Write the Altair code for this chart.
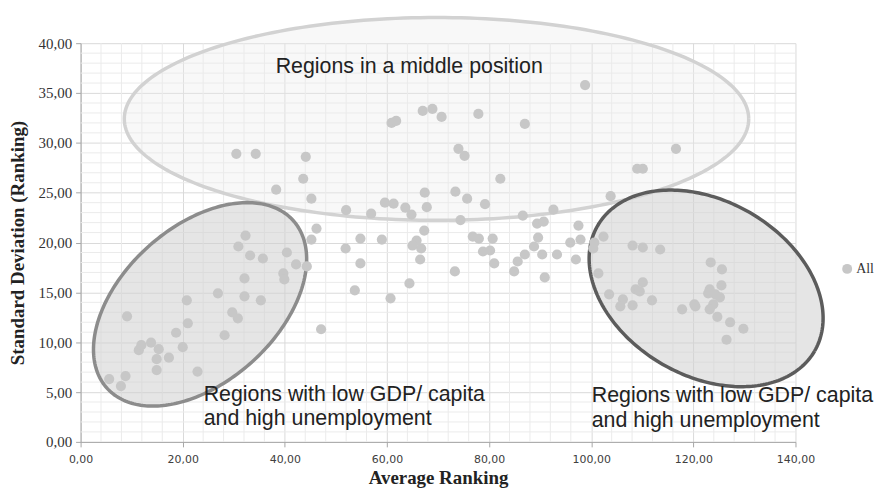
import altair as alt
import numpy as np
import pandas as pd

# ---------------- data ----------------
avg_ranking = [
    9.1, 5.6, 7.9, 8.8, 11.4, 11.9, 13.8, 15.3, 14.9, 14.9, 17.3, 18.7, 20.0, 20.8, 21.0, 22.9,
    26.9, 28.2, 29.7, 30.8, 32.1, 32.1, 35.3, 30.9, 33.2, 35.7, 40.4, 39.7, 39.9, 42.2, 44.3,
    45.2, 47.1, 32.3, 46.2,
    30.5, 34.3, 44.1, 43.6, 38.3, 45.2,
    52.0, 56.9, 59.6, 61.3, 60.9, 61.8, 67.0, 68.9, 70.7, 77.9, 87.0, 74.0, 75.2, 82.2, 67.4,
    73.4, 75.7, 79.2, 63.6, 64.8, 67.8, 74.4, 86.6, 89.4, 90.7, 92.6, 89.6, 88.8, 67.3, 65.8,
    65.0, 66.7, 54.8, 59.0, 51.9, 76.8, 78.0, 80.7,
    54.8, 53.7, 60.7, 64.4, 66.5, 73.3, 78.8, 80.2, 81.0, 84.9, 85.6, 87.0, 90.4, 90.9, 93.3,
    98.8, 116.6, 109.0, 110.1, 103.8, 97.5, 95.9, 97.9, 100.6, 100.4, 102.4, 108.1, 110.1,
    113.5, 97.0, 101.4, 103.5, 106.2, 105.7, 108.1, 110.1, 108.7, 109.5, 111.9, 117.8, 120.2,
    120.4, 123.4, 125.6, 125.5, 123.2, 122.9, 124.3, 125.2, 123.9, 123.2, 124.7, 127.2, 129.8,
    126.5,
]
std_dev = [
    12.6, 6.3, 5.6, 6.6, 9.2, 9.7, 9.95, 9.3, 8.3, 7.2, 8.45, 10.95, 9.5, 14.2, 11.9, 7.05,
    14.9, 10.7, 13.0, 12.4, 14.6, 16.4, 14.2, 19.6, 18.7, 18.4, 19.0, 16.9, 16.3, 17.8, 17.6,
    20.3, 11.3, 20.7, 21.4,
    28.9, 28.9, 28.6, 26.4, 25.3, 24.4,
    23.25, 22.9, 24.0, 23.9, 32.0, 32.2, 33.2, 33.4, 32.6, 32.9, 31.9, 29.4, 28.7, 26.4, 25.0,
    25.1, 24.4, 23.85, 23.5, 22.8, 23.55, 22.25, 22.7, 21.9, 22.1, 23.3, 20.5, 19.6, 21.2, 20.2,
    19.7, 19.4, 20.4, 20.3, 19.4, 20.6, 20.4, 20.4,
    17.9, 15.2, 14.4, 15.9, 18.3, 17.1, 19.1, 19.2, 17.9, 17.1, 18.1, 18.8, 18.8, 16.5, 18.8,
    35.8, 29.4, 27.4, 27.4, 24.65, 21.7, 20.0, 20.3, 20.0, 19.4, 20.6, 19.7, 19.5,
    19.3, 18.3, 16.9, 14.8, 14.3, 13.6, 13.7, 16.0, 15.3, 15.1, 14.2, 13.3, 13.8,
    13.6, 18.0, 17.3, 15.7, 15.3, 14.9, 14.8, 14.5, 13.8, 13.3, 12.55, 12.0, 11.35,
    10.25,
]
series_name = "All"

x_ticks = [0, 20, 40, 60, 80, 100, 120, 140]
y_ticks = [0, 5, 10, 15, 20, 25, 30, 35, 40]
x_minor = [v for v in range(0, 141, 4) if v % 20 != 0]
y_minor = [v for v in range(0, 41, 1) if v % 5 != 0]

annotations_text = [
    "Regions in a middle position",
    "Regions with low GDP/ capita",
    "and high unemployment",
    "Regions with low GDP/ capita",
    "and high unemployment",
]
annotations_x = [38.2, 24.1, 24.1, 100.1, 100.1]
annotations_y = [37.0, 4.1, 1.65, 4.0, 1.5]

# ellipse annotations: centre (data units), semi-axes (px), rotation (deg)
ell_cx = [69.7, 23.4, 122.5]
ell_cy = [32.4, 13.8, 15.4]
ell_a = [314, 126, 126]
ell_b = [102, 78, 88]
ell_ang = [0, 42, -30]

# ---------------- layout ----------------
W, H = 719, 401
XMAX, YMAX = 140, 40
SX, SY = W / XMAX, H / YMAX

fill_colors = ["#ececec", "#cfcfcf", "#cfcfcf"]
fill_opac = [0.35, 0.55, 0.55]
stroke_colors = ["#d2d2d2", "#8c8c8c", "#5c5c5c"]

label_expr = "replace(format(datum.value, '.2f'), '.', ',')"

x_axis = alt.Axis(values=x_ticks, labelExpr=label_expr, title="Average Ranking",
                  labelFont="DejaVu Sans", labelFontSize=11, labelColor="#404040",
                  labelPadding=7, labelFlush=False, tickSize=5, tickColor="#a6a6a6",
                  domainColor="#a6a6a6", gridColor="#dadada", titleFont="Liberation Serif",
                  titleFontSize=19, titleFontWeight="bold", titleColor="#222222",
                  titlePadding=4)
y_axis = alt.Axis(values=y_ticks, labelExpr=label_expr, title="Standard Deviation (Ranking)",
                  labelFont="Liberation Serif", labelFontSize=15, labelColor="#333333",
                  labelPadding=4, labelFlush=False, tickSize=5, tickColor="#a6a6a6",
                  domainColor="#a6a6a6", gridColor="#dadada", titleFont="Liberation Serif",
                  titleFontSize=19, titleFontWeight="bold", titleColor="#222222",
                  titlePadding=11)
xs = alt.Scale(domain=[0, XMAX], nice=False, zero=False)
ys = alt.Scale(domain=[0, YMAX], nice=False, zero=False)


def X(field):
    return alt.X(f"{field}:Q", scale=xs, axis=x_axis)


def Y(field):
    return alt.Y(f"{field}:Q", scale=ys, axis=y_axis)


layers = []

# minor grid
layers.append(alt.Chart(pd.DataFrame({"x": x_minor})).mark_rule(color="#ebebeb", strokeWidth=1)
              .encode(x=X("x")))
layers.append(alt.Chart(pd.DataFrame({"y": y_minor})).mark_rule(color="#ebebeb", strokeWidth=1)
              .encode(y=Y("y")))

# ellipses
for i in range(3):
    th = np.radians(ell_ang[i])
    c, s = np.cos(th), np.sin(th)
    a, b = ell_a[i], ell_b[i]
    # outline
    t = np.linspace(0, 2 * np.pi, 241)
    u, v = a * np.cos(t), b * np.sin(t)
    dx = u * c - v * s
    dy = u * s + v * c
    out = pd.DataFrame({"x": ell_cx[i] + dx / SX, "y": ell_cy[i] + dy / SY, "o": np.arange(len(t))})
    # fill (lower/upper boundary for each x)
    half_w = np.sqrt(a * a * c * c + b * b * s * s)
    fx = np.linspace(-half_w, half_w, 241)
    A = s * s / a ** 2 + c * c / b ** 2
    B = 2 * fx * c * s * (1 / a ** 2 - 1 / b ** 2)
    C = fx ** 2 * (c * c / a ** 2 + s * s / b ** 2) - 1
    disc = np.sqrt(np.clip(B * B - 4 * A * C, 0, None))
    lo = (-B - disc) / (2 * A)
    hi = (-B + disc) / (2 * A)
    fill = pd.DataFrame({"x": ell_cx[i] + fx / SX, "lo": ell_cy[i] + lo / SY, "hi": ell_cy[i] + hi / SY})
    layers.append(alt.Chart(fill).mark_area(color=fill_colors[i], opacity=fill_opac[i], interpolate="linear")
                  .encode(x=X("x"), y=Y("lo"), y2="hi"))
    layers.append(alt.Chart(out).mark_line(color=stroke_colors[i], strokeWidth=3.5)
                  .encode(x=X("x"), y=Y("y"), order="o:Q"))

# points
pts = pd.DataFrame({"x": avg_ranking, "y": std_dev, "series": series_name})
layers.append(
    alt.Chart(pts).mark_circle(size=105, opacity=1).encode(
        x=X("x"), y=Y("y"),
        color=alt.Color("series:N", scale=alt.Scale(domain=[series_name], range=["#c7c7c7"]),
                        legend=alt.Legend(title=None, orient="none", legendX=764, legendY=220,
                                          labelFont="Liberation Serif", labelFontSize=14,
                                          labelColor="#333333", labelOffset=2,
                                          symbolType="circle", symbolSize=100,
                                          symbolOpacity=1)),
    )
)

# annotation texts
ann = pd.DataFrame({"x": annotations_x, "y": annotations_y, "t": annotations_text})
layers.append(
    alt.Chart(ann).mark_text(align="left", baseline="alphabetic", font="Liberation Sans",
                             fontSize=21.5, color="#222222")
    .encode(x=X("x"), y=Y("y"), text="t:N")
)

chart = alt.layer(*layers).properties(
    width=W, height=H,
    autosize=alt.AutoSizeParams(type="none"),
    padding={"left": 73, "top": 34, "right": 84, "bottom": 46},
).configure_view(strokeWidth=0).configure_axis(grid=True)

chart.save("out.html", embed_options={"renderer": "svg", "actions": False})
